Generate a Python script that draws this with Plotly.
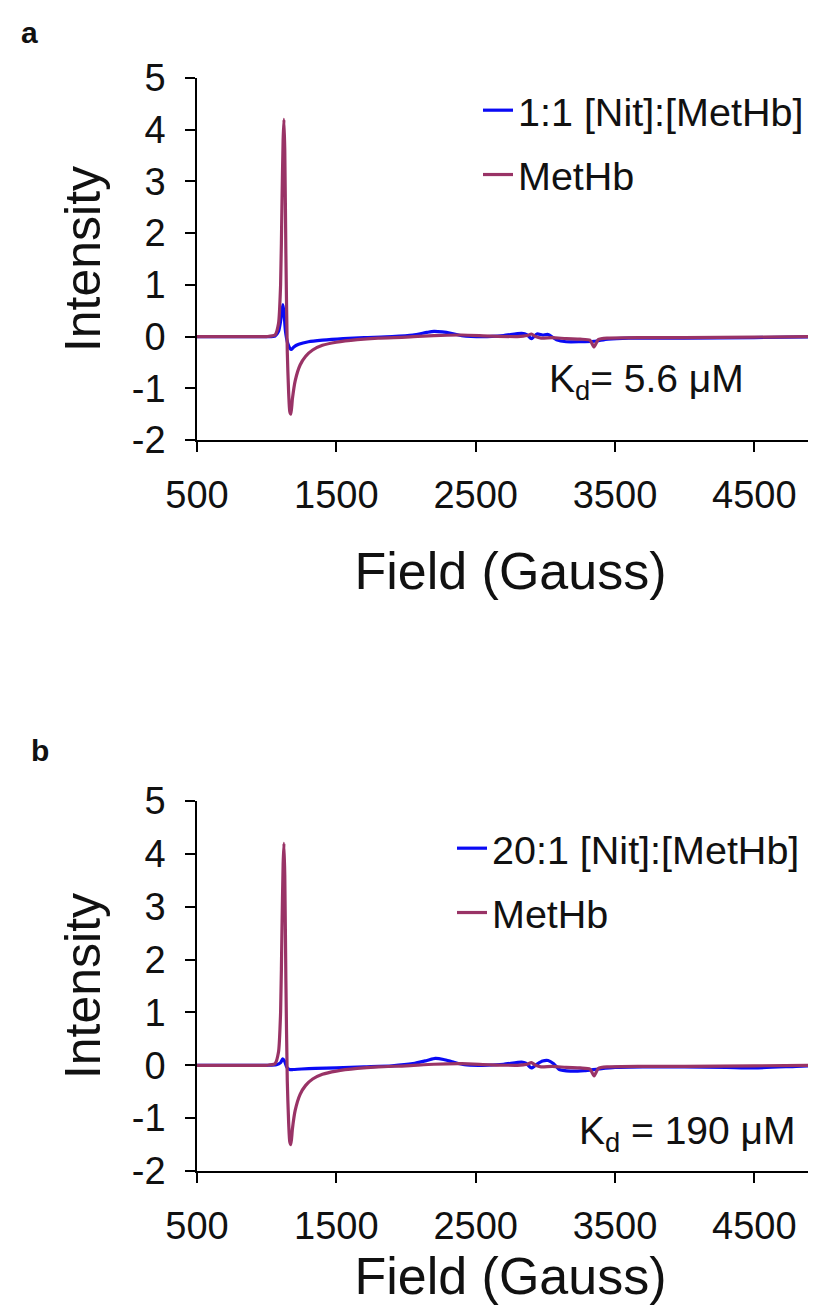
import plotly.graph_objects as go

# ---------------- data ----------------
field_methb = [500, 800, 1000, 1060, 1085, 1100, 1110, 1118, 1124, 1130, 1138, 1148, 1158, 1166, 1174,
               1185, 1205, 1240, 1280, 1330, 1400, 1500, 1650, 1800, 2000, 2200, 2400, 2600, 2800,
               2870, 2900, 2930, 2970, 3050, 3150, 3250, 3320, 3350, 3380, 3450, 3700, 4000, 4500, 5000]
int_methb = [0.0, 0.0, 0.0, 0.03, 0.25, 1.0, 2.6, 3.8, 4.2, 3.6, 1.6, -0.3, -1.1, -1.45, -1.5,
             -1.2, -0.85, -0.55, -0.38, -0.26, -0.17, -0.11, -0.06, -0.03, -0.01, 0.02, 0.03, 0.01, 0.0,
             0.02, 0.05, 0.0, -0.03, -0.02, -0.04, -0.05, -0.07, -0.2, -0.06, -0.03, -0.02, -0.02, -0.01, 0.0]

field_a_nit = [500, 800, 1000, 1060, 1085, 1100, 1110, 1117, 1125, 1135, 1150, 1165, 1178, 1195, 1230, 1300,
               1400, 1550, 1700, 1900, 2050, 2150, 2200, 2260, 2330, 2400, 2550, 2700, 2830, 2870,
               2900, 2940, 2980, 3020, 3080, 3150, 3250, 3350, 3450, 3600, 4000, 4500, 5000]
int_a_nit = [0.0, 0.0, 0.0, 0.01, 0.1, 0.3, 0.5, 0.62, 0.45, 0.1, -0.12, -0.22, -0.25, -0.2, -0.15, -0.1,
             -0.07, -0.04, -0.02, 0.0, 0.03, 0.08, 0.1, 0.09, 0.06, 0.02, 0.0, 0.02, 0.06, 0.03,
             -0.04, 0.05, 0.03, 0.04, -0.06, -0.1, -0.1, -0.09, -0.05, -0.03, -0.03, -0.02, 0.0]

field_b_nit = [500, 800, 1000, 1070, 1100, 1115, 1128, 1145, 1165, 1190, 1250, 1350, 1500, 1700, 1900,
               2050, 2150, 2210, 2270, 2340, 2420, 2550, 2700, 2830, 2860, 2900, 2940, 2980, 3020,
               3060, 3100, 3180, 3280, 3380, 3500, 3700, 4000, 4300, 4500, 4800, 5000]
int_b_nit = [0.0, 0.0, 0.0, 0.01, 0.05, 0.12, 0.08, -0.04, -0.08, -0.08, -0.07, -0.06, -0.05, -0.03, -0.01,
             0.03, 0.09, 0.13, 0.11, 0.06, 0.01, 0.0, 0.02, 0.06, 0.04, -0.05, 0.02, 0.08, 0.09,
             0.03, -0.08, -0.11, -0.1, -0.07, -0.04, -0.03, -0.03, -0.04, -0.05, -0.02, 0.0]

x_ticks = [500, 1500, 2500, 3500, 4500]
x_ticktext = ["500", "1500", "2500", "3500", "4500"]
y_ticks = [-2, -1, 0, 1, 2, 3, 4, 5]
y_ticktext = ["-2", "-1", "0", "1", "2", "3", "4", "5"]

panel_labels = ["a", "b"]
legend_a = ["1:1 [Nit]:[MetHb]", "MetHb"]
legend_b = ["20:1 [Nit]:[MetHb]", "MetHb"]
kd_a = "K<sub>d</sub>= 5.6 \u03bcM"
kd_b = "K<sub>d</sub> = 190 \u03bcM"

# ---------------- figure ----------------
W, H = 816, 1309
BLUE = "#0a0af5"
PLUM = "#993366"
FONT = "Liberation Sans, Arial, sans-serif"
TXT = "#111111"

fig = go.Figure()

def add_line(x, y, name, color, xa, ya, leg, grp):
    fig.add_trace(go.Scatter(x=x, y=y, mode="lines", name=name,
                             line=dict(color=color, width=3.2, shape="spline", smoothing=0.6),
                             xaxis=xa, yaxis=ya, legend=leg, legendgroup=grp))

add_line(field_a_nit, int_a_nit, legend_a[0], BLUE, "x", "y", "legend", "a1")
add_line(field_methb, int_methb, legend_a[1], PLUM, "x", "y", "legend", "a2")
add_line(field_b_nit, int_b_nit, legend_b[0], BLUE, "x2", "y2", "legend2", "b1")
add_line(field_methb, int_methb, legend_b[1], PLUM, "x2", "y2", "legend2", "b2")

x_left = 189 / W
ya = [1 - 432 / H, 1 - 70 / H]
yb = [1 - 1163 / H, 1 - 793 / H]

def xaxis_cfg(standoff):
    return dict(range=[500, 5000], tickvals=x_ticks, ticktext=x_ticktext, showline=True, linecolor="black",
                linewidth=1.5, ticks="outside", ticklen=10, tickwidth=1.5, tickcolor="black", showgrid=False,
                zeroline=False, automargin=False, ticklabelstandoff=11,
                tickfont=dict(size=38, color=TXT, family=FONT),
                title=dict(text="Field (Gauss)", font=dict(size=52, color=TXT, family=FONT), standoff=standoff))

yax = dict(range=[-2, 5], tickvals=y_ticks, ticktext=y_ticktext, showline=True, linecolor="black",
           linewidth=1.5, ticks="outside", ticklen=10, tickwidth=1.5, tickcolor="black", showgrid=False,
           zeroline=False, automargin=False, ticklabelstandoff=12,
           tickfont=dict(size=38, color=TXT, family=FONT),
           title=dict(text="Intensity", font=dict(size=50, color=TXT, family=FONT), standoff=15))

leg_common = dict(xanchor="left", yanchor="top", bgcolor="rgba(0,0,0,0)",
                  font=dict(size=39.5, family=FONT, color=TXT), itemwidth=30, tracegroupgap=10)

fig.update_layout(
    width=W, height=H, autosize=False,
    margin=dict(l=0, r=0, t=0, b=0, autoexpand=False),
    paper_bgcolor="white", plot_bgcolor="white",
    font=dict(family=FONT, color=TXT),
    xaxis=dict(domain=[x_left, 1], anchor="y", **xaxis_cfg(37)),
    yaxis=dict(domain=ya, anchor="x", **yax),
    xaxis2=dict(domain=[x_left, 1], anchor="y2", **xaxis_cfg(10)),
    yaxis2=dict(domain=yb, anchor="x2", **yax),
    legend=dict(x=470 / W, y=1 - 70 / H, **leg_common),
    legend2=dict(x=444 / W, y=1 - 808 / H, **leg_common),
    showlegend=True,
)

fig.add_annotation(text=kd_a, x=3009, y=-0.86, xref="x", yref="y", showarrow=False,
                   xanchor="left", yanchor="middle", font=dict(size=39, family=FONT, color=TXT))
fig.add_annotation(text=kd_b, x=3225, y=-1.29, xref="x2", yref="y2", showarrow=False,
                   xanchor="left", yanchor="middle", font=dict(size=39, family=FONT, color=TXT))

fig.add_annotation(text="<b>" + panel_labels[0] + "</b>", x=21 / W, y=1 - 24 / H, xref="paper", yref="paper",
                   showarrow=False, xanchor="center", yanchor="middle", font=dict(size=30, family=FONT, color=TXT))
fig.add_annotation(text="<b>" + panel_labels[1] + "</b>", x=32 / W, y=1 - 742 / H, xref="paper", yref="paper",
                   showarrow=False, xanchor="center", yanchor="middle", font=dict(size=30, family=FONT, color=TXT))

fig.write_html("out.html")
